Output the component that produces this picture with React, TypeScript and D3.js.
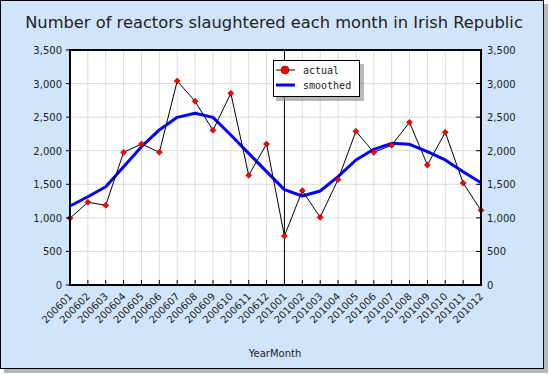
import React from "react";
import * as d3 from "d3";

const categories = ["200601","200602","200603","200604","200605","200606","200607","200608","200609","200610","200611","200612","201001","201002","201003","201004","201005","201006","201007","201008","201009","201010","201011","201012"];
const actual = [995,1232,1187,1976,2100,1976,3038,2736,2304,2855,1634,2100,730,1405,1008,1570,2289,1976,2081,2423,1787,2274,1519,1112];
const smoothed = [1177,1315,1464,1762,2060,2309,2497,2557,2497,2234,1961,1688,1420,1326,1400,1613,1862,2021,2110,2095,1985,1862,1688,1524];
const yTicks = [0,500,1000,1500,2000,2500,3000,3500];
const title = "Number of reactors slaughtered each month in Irish Republic";
const xTitle = "YearMonth";

export default function App() {
  const W = 550, H = 375;
  const L = 70, R = 481, T = 50, B = 285;
  const x = d3.scalePoint<string>().domain(categories).range([L, R]);
  const y = d3.scaleLinear().domain([0, 3500]).range([B, T]);
  const fmt = d3.format(",");
  const font = "'DejaVu Sans', Verdana, sans-serif";
  const mono = "'DejaVu Sans Mono', monospace";
  const line = d3.line<number>().x((_, i) => x(categories[i])!).y(d => y(d));
  const sepX = x("201001")!;
  return (
    <svg width={W} height={H} style={{ position: "absolute", left: 0, top: 0 }} fontFamily={font}>
      <rect x={4} y={4} width={544} height={369} fill="#888" opacity={0.6} />
      <rect x={0.5} y={0.5} width={543} height={368} fill="#d0e5fb" stroke="#000" strokeWidth={1} />
      <text x={274} y={28} textAnchor="middle" fontSize={16.3} fill="#222">{title}</text>
      <rect x={L} y={T} width={R - L} height={B - T} fill="#fff" />
      {yTicks.map(t => (
        <line key={"h" + t} x1={L} x2={R} y1={y(t)} y2={y(t)} stroke="#dcdcdc" strokeWidth={1} />
      ))}
      {categories.map(c => (
        <line key={"v" + c} x1={x(c)} x2={x(c)} y1={T} y2={B} stroke="#dcdcdc" strokeWidth={1} />
      ))}
      <line x1={sepX} x2={sepX} y1={T} y2={B} stroke="#000" strokeWidth={1} />
      <path d={line(smoothed)!} fill="none" stroke="#0000ff" strokeWidth={3} strokeLinejoin="round" />
      <path d={line(actual)!} fill="none" stroke="#000" strokeWidth={1} />
      {actual.map((v, i) => {
        const cx = x(categories[i])!, cy = y(v);
        return <path key={"m" + i} d={`M${cx},${cy - 3}L${cx + 3},${cy}L${cx},${cy + 3}L${cx - 3},${cy}Z`} fill="#ff0000" stroke="#800000" strokeWidth={0.6} />;
      })}
      <rect x={L} y={T} width={R - L} height={B - T} fill="none" stroke="#000" strokeWidth={2} />
      {yTicks.map(t => (
        <g key={"yt" + t}>
          <line x1={L - 4} x2={L} y1={y(t)} y2={y(t)} stroke="#000" />
          <line x1={R - 5} x2={R} y1={y(t)} y2={y(t)} stroke="#000" />
          <text x={L - 8} y={y(t) + 4} textAnchor="end" fontSize={10} fill="#222">{fmt(t)}</text>
          <text x={R + 6} y={y(t) + 4} textAnchor="start" fontSize={10} fill="#222">{fmt(t)}</text>
        </g>
      ))}
      {categories.map(c => (
        <g key={"xt" + c}>
          <line x1={x(c)} x2={x(c)} y1={B - 5} y2={B} stroke="#000" />
          <text transform={`translate(${x(c)! + 3},${B + 12}) rotate(-45)`} textAnchor="end" fontSize={10} fill="#222">{c}</text>
        </g>
      ))}
      <text x={275} y={357} textAnchor="middle" fontSize={10} fill="#222">{xTitle}</text>
      <g>
        <rect x={276} y={64} width={88} height={37} fill="#888" opacity={0.6} />
        <rect x={273.5} y={60.5} width={86} height={36} fill="#fff" stroke="#000" strokeWidth={1} />
        <line x1={276} x2={295} y1={70} y2={70} stroke="#000" strokeWidth={1} />
        <circle cx={285} cy={70} r={4} fill="#ff0000" stroke="#800000" strokeWidth={0.6} />
        <text x={303} y={73.5} fontSize={10} fontFamily={mono} fill="#222">actual</text>
        <line x1={276} x2={295} y1={85} y2={85} stroke="#0000ff" strokeWidth={3} />
        <text x={303} y={88.5} fontSize={10} fontFamily={mono} fill="#222">smoothed</text>
      </g>
    </svg>
  );
}
